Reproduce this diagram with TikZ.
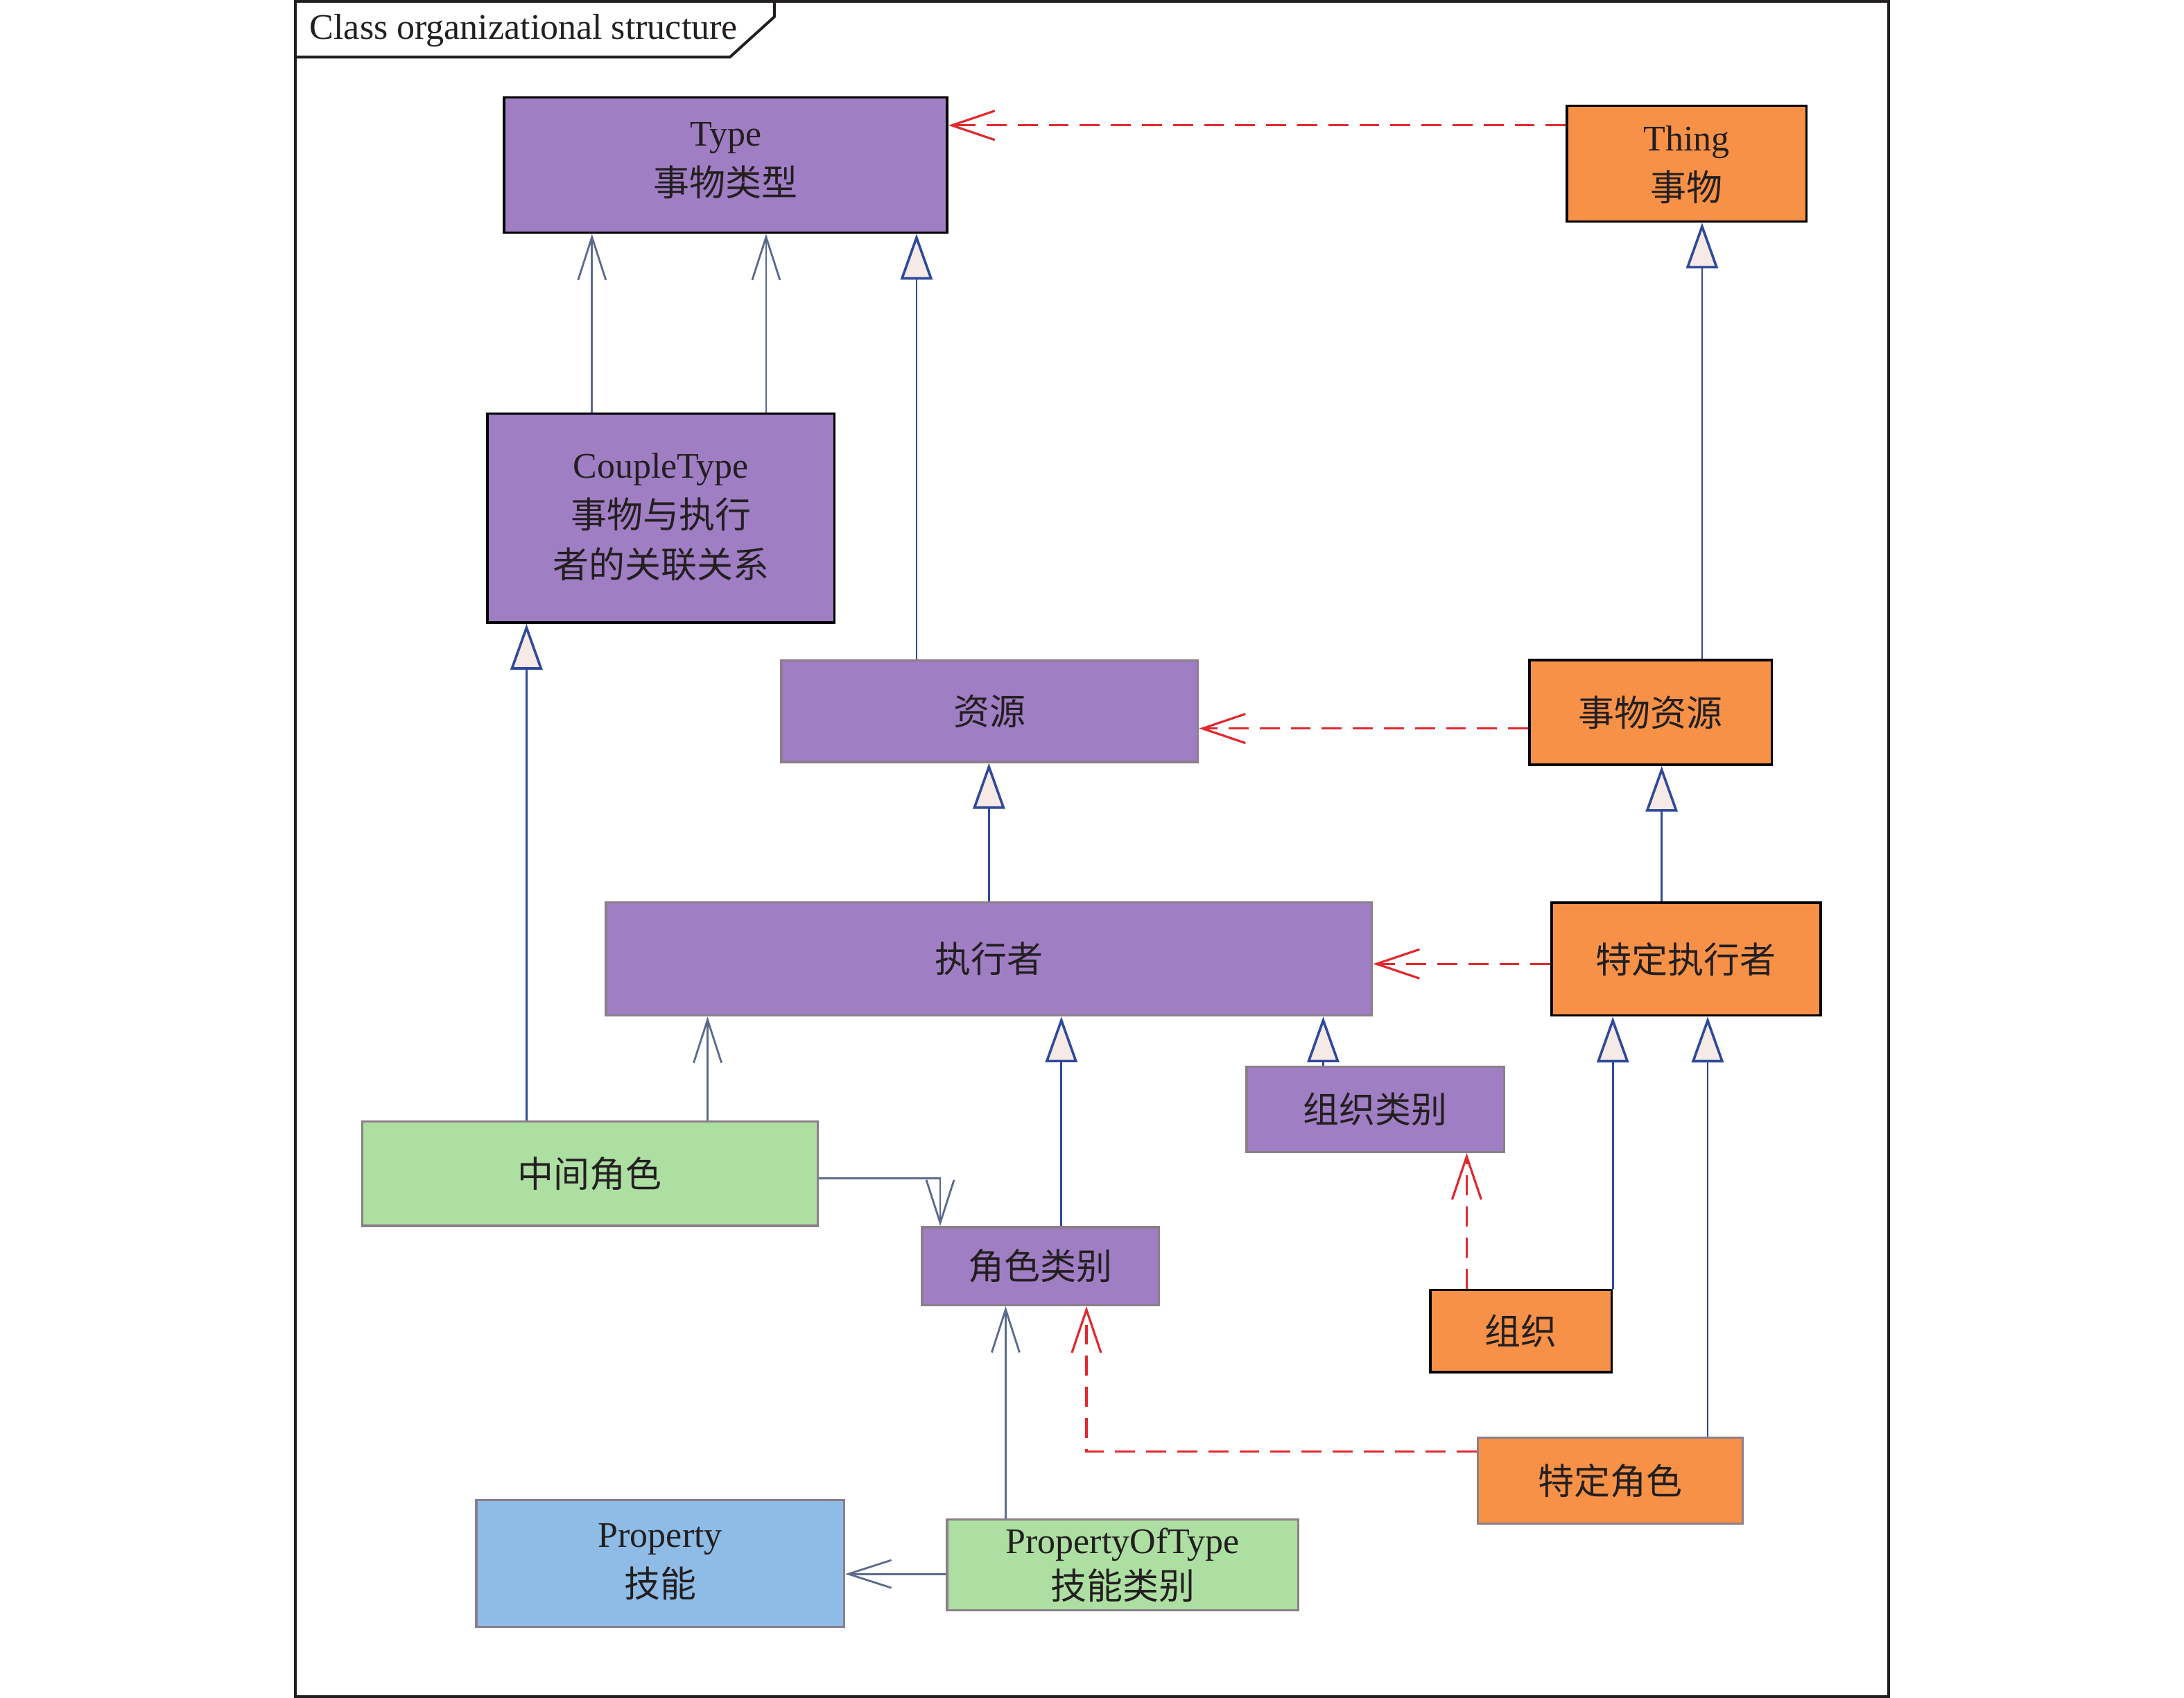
\documentclass[tikz,border=0pt]{standalone}
\usepackage{fontspec}
\setmainfont{Liberation Serif}
\newfontfamily\cjk{Noto Sans CJK SC}
\usetikzlibrary{fit,arrows.meta}
\definecolor{cpurple}{HTML}{A07EC4}
\definecolor{corange}{HTML}{F79148}
\definecolor{cgreen}{HTML}{AEDFA2}
\definecolor{cblue}{HTML}{8EBCE6}
\definecolor{bgray}{HTML}{8C7F8A}
\definecolor{lblue}{HTML}{2F4A9B}
\definecolor{slate}{HTML}{5B6A8C}
\definecolor{dred}{HTML}{DF2A30}
\definecolor{trifill}{HTML}{F5EAE6}
\definecolor{txt}{HTML}{231F20}
\newcommand{\boxfont}{\fontsize{13pt}{18pt}\selectfont}
\tikzset{
  basebox/.style={rectangle, inner sep=0pt},
  txtl/.style={align=center, font=\boxfont, text=txt, inner sep=0pt, yshift=#1},
  txtl/.default=0pt,
  pbk/.style={basebox, fill=cpurple, draw=black, line width=0.9pt},
  pgr/.style={basebox, fill=cpurple, draw=bgray, line width=0.8pt},
  obk/.style={basebox, fill=corange, draw=black, line width=0.9pt},
  ogr/.style={basebox, fill=corange, draw=bgray, line width=0.8pt},
  ggr/.style={basebox, fill=cgreen, draw=bgray, line width=0.8pt},
  bgr/.style={basebox, fill=cblue, draw=bgray, line width=0.8pt},
  gen/.style={draw=lblue, line width=0.7pt, -{Triangle[length=16.5pt, width=11.5pt, fill=trifill, line width=0.9pt]}},
  assoc/.style={draw=slate, line width=0.7pt, -{Straight Barb[length=15.5pt, width=10pt]}},
  dep/.style={draw=dred, line width=0.8pt, dash pattern=on 7.2pt off 4pt, -{Straight Barb[length=15.5pt, width=10.5pt]}}
}
\begin{document}
\begin{tikzpicture}[x=0.50225pt,y=-0.50225pt]
\useasboundingbox (0,0) rectangle (1568,1219);
% frame
\draw[line width=1pt, draw=txt] (212,1) rectangle (1356,1218);
\draw[line width=1pt, draw=txt] (212,41) -- (524,41) -- (556,12) -- (556,1);
\node[anchor=base west, font=\fontsize{13pt}{16pt}\selectfont, text=txt, inner sep=0pt] (title) at (222,28) {Class organizational structure};
% boxes
\node[pbk, fit={(362,70) (680,167)}, label={[txtl=1.5pt]center:{Type\\{\cjk 事物类型}}}] (type) {};
\node[obk, fit={(1125,76) (1297,159)}, label={[txtl=-0.5pt]center:{Thing\\{\cjk 事物}}}] (thing) {};
\node[pbk, fit={(350,297) (599,447)}, label={[txtl=0.5pt]center:{CoupleType\\{\cjk 事物与执行}\\{\cjk 者的关联关系}}}] (couple) {};
\node[pgr, fit={(561,474) (860,547)}, label={[txtl]center:{\cjk 资源}}] (res) {};
\node[obk, fit={(1098,474) (1272,549)}, label={[txtl]center:{\cjk 事物资源}}] (thres) {};
\node[pgr, fit={(435,648) (985,729)}, label={[txtl]center:{\cjk 执行者}}] (exec) {};
\node[obk, fit={(1114,648) (1307,729)}, label={[txtl]center:{\cjk 特定执行者}}] (spexec) {};
\node[pgr, fit={(895,766) (1080,827)}, label={[txtl]center:{\cjk 组织类别}}] (orgcat) {};
\node[ggr, fit={(260,805) (587,880)}, label={[txtl]center:{\cjk 中间角色}}] (mid) {};
\node[pgr, fit={(662,881) (832,937)}, label={[txtl]center:{\cjk 角色类别}}] (rolecat) {};
\node[obk, fit={(1027,926) (1157,985)}, label={[txtl]center:{\cjk 组织}}] (org) {};
\node[ogr, fit={(1061,1032) (1251,1094)}, label={[txtl]center:{\cjk 特定角色}}] (sprole) {};
\node[bgr, fit={(342,1077) (606,1168)}, label={[txtl=0.5pt]center:{Property\\{\cjk 技能}}}] (prop) {};
\node[ggr, fit={(680,1091) (932,1156)}, label={[txtl]center:{PropertyOfType\\[-1.5pt]{\cjk 技能类别}}}] (propt) {};
% helper coordinates
\foreach \xx in {378,425,508,550,658,675,710,722,762,780,950,1053,1193,1222,1226}
  \coordinate (c\xx) at (\xx,0);
\foreach \yy in {90,523,692,846,1042,1130}
  \coordinate (r\yy) at (0,\yy);
% connectors
\draw[dep] (thing.west |- r90) -- (type.east |- r90);
\draw[assoc] (couple.north -| c425) -- (type.south -| c425);
\draw[assoc] (couple.north -| c550) -- (type.south -| c550);
\draw[gen] (res.north -| c658) -- (type.south -| c658);
\draw[gen] (thres.north -| c1222) -- (thing.south -| c1222);
\draw[dep] (thres.west |- r523) -- (res.east |- r523);
\draw[gen] (exec.north -| c710) -- (res.south -| c710);
\draw[gen] (spexec.north -| c1193) -- (thres.south -| c1193);
\draw[dep] (spexec.west |- r692) -- (exec.east |- r692);
\draw[gen] (mid.north -| c378) -- (couple.south -| c378);
\draw[assoc] (mid.north -| c508) -- (exec.south -| c508);
\draw[assoc] (mid.east |- r846) -| (rolecat.north -| c675);
\draw[gen] (rolecat.north -| c762) -- (exec.south -| c762);
\draw[gen] (orgcat.north -| c950) -- (exec.south -| c950);
\draw[gen] (org.north east) -- (spexec.south -| org.north east);
\draw[dep] (org.north -| c1053) -- (orgcat.south -| c1053);
\draw[gen] (sprole.north -| c1226) -- (spexec.south -| c1226);
\draw[dep] (sprole.west |- r1042) -| (rolecat.south -| c780);
\draw[assoc] (propt.north -| c722) -- (rolecat.south -| c722);
\draw[assoc] (propt.west |- r1130) -- (prop.east |- r1130);
\end{tikzpicture}
\end{document}
